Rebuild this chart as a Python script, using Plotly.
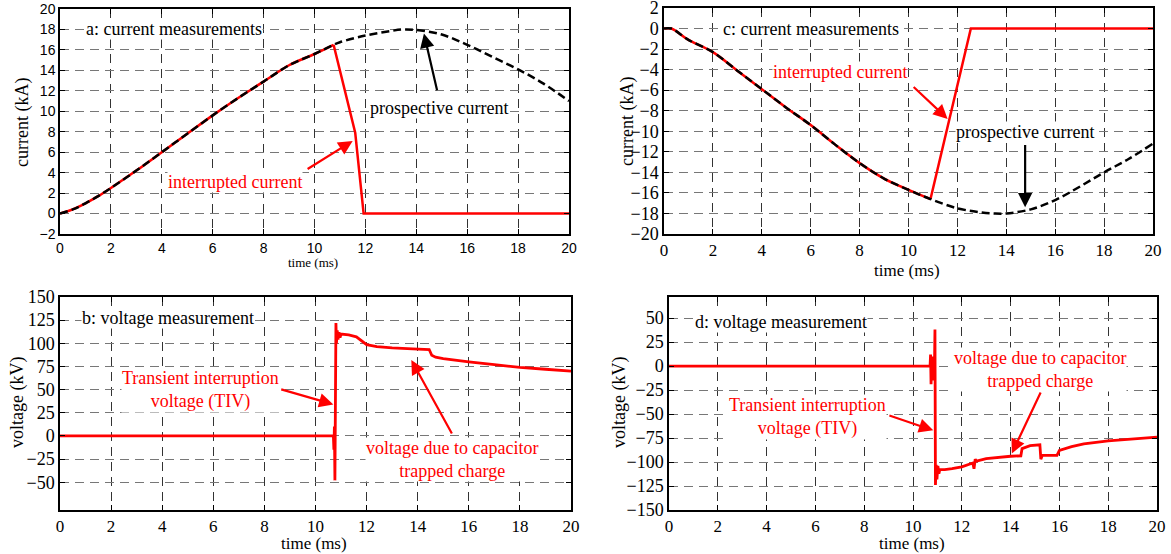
import plotly.graph_objects as go

# ---------------- data ----------------
# panel a: current measurements (positive half wave)
a_pros_t = [0, 0.5, 1, 1.5, 2, 3, 4, 5, 6, 7, 8, 9, 10, 10.75, 11, 12, 13, 13.5, 14, 15, 16, 17, 18, 19, 20]
a_pros_i = [0, 0.4, 1.0, 1.7, 2.5, 4.2, 6.0, 7.8, 9.6, 11.3, 12.9, 14.5, 15.6, 16.5, 16.75, 17.4, 17.85, 18.0, 17.95, 17.5, 16.5, 15.3, 14.1, 12.7, 11.0]
a_int_t = [0, 0.5, 1, 1.5, 2, 3, 4, 5, 6, 7, 8, 9, 10, 10.75]
a_int_i = [0, 0.4, 1.0, 1.7, 2.5, 4.2, 6.0, 7.8, 9.6, 11.3, 12.9, 14.5, 15.6, 16.5]
a_cut_t = [10.75, 11.6, 11.93, 20]
a_cut_i = [16.5, 7.9, 0, 0]

# panel c: current measurements (negative half wave)
c_pros_t = [0, 0.3, 1, 2, 3, 4, 5, 6, 7, 8, 9, 10, 10.9, 12, 13, 13.5, 14, 15, 16, 17, 18, 19, 20]
c_pros_i = [0, 0, -1.1, -2.3, -4.1, -5.9, -7.7, -9.4, -11.3, -13.1, -14.6, -15.7, -16.6, -17.5, -17.9, -18.0, -18.0, -17.6, -16.7, -15.4, -14.0, -12.7, -11.2]
c_int_t = [0, 0.3, 1, 2, 3, 4, 5, 6, 7, 8, 9, 10, 10.9]
c_int_i = [0, 0, -1.1, -2.3, -4.1, -5.9, -7.7, -9.4, -11.3, -13.1, -14.6, -15.7, -16.6]
c_cut_t = [10.9, 12.55, 20]
c_cut_i = [-16.6, 0, 0]

# panel b: voltage measurement
b_t = [0, 10.70, 10.72, 10.74, 10.76, 10.78, 10.80, 10.82, 10.85, 10.88, 10.92, 10.96, 11.0, 11.3, 11.6,
       11.8, 12.0, 12.4, 13.0, 13.8, 14.45, 14.55, 14.7, 15.0, 15.5, 16.0, 17.0, 18.0, 19.0, 20.0]
b_v = [0, 0, -15, 10, -48, 30, 122, 100, 114, 104, 112, 106, 110, 109, 107,
       103, 98.5, 96.5, 95, 94, 93.3, 87, 85, 83.5, 81.5, 80, 77, 74, 72, 70]

# panel d: voltage measurement
d_t = [0, 10.70, 10.72, 10.74, 10.78, 10.82, 10.86, 10.88, 10.90, 10.92, 10.95, 10.98, 11.02, 11.06, 11.1,
       11.3, 11.6, 12.0, 12.45, 12.5, 12.55, 12.6, 13.0, 13.5, 14.0, 14.42, 14.47, 14.8, 15.2, 15.24,
       15.3, 15.9, 16.0, 16.5, 17.0, 18.0, 19.0, 20.0]
d_v = [0, 0, 12, -19, 10, -15, 5, 0, 38, -124, -103, -118, -104, -112, -108,
       -108, -107, -105, -101, -107, -97, -99, -96.5, -95, -94, -93.5, -86, -83, -82, -97,
       -93, -93, -88, -84, -81, -78, -76, -74]

x_ticks = list(range(0, 21, 2))
a_yticks = list(range(-2, 21, 2))
c_yticks = list(range(-20, 3, 2))
b_yticks = list(range(-50, 151, 25))
d_yticks = list(range(-150, 51, 25))

# ---------------- figure ----------------
W, H = 1171, 554
RED = "#ff0000"
SERIF = "'Liberation Serif', 'Times New Roman', Times, serif"
SANS = "'Liberation Sans', Arial, Helvetica, sans-serif"

fig = go.Figure()

def line(x, y, ax, color, dash=None, shape="linear", width=2.5):
    fig.add_trace(go.Scatter(x=x, y=y, mode="lines", xaxis=ax[0], yaxis=ax[1],
                             line=dict(color=color, width=width, dash=dash, shape=shape),
                             showlegend=False, hoverinfo="skip"))

# panel a
line(a_int_t, a_int_i, ("x", "y"), RED, shape="spline")
line(a_cut_t, a_cut_i, ("x", "y"), RED)
line(a_pros_t, a_pros_i, ("x", "y"), "black", dash="8px,4px", shape="spline")
# panel c
line(c_int_t, c_int_i, ("x2", "y2"), RED, shape="spline")
line(c_cut_t, c_cut_i, ("x2", "y2"), RED)
line(c_pros_t, c_pros_i, ("x2", "y2"), "black", dash="8px,4px", shape="spline")
# panel b
line(b_t, b_v, ("x3", "y3"), RED, width=2.8)
# panel d
line(d_t, d_v, ("x4", "y4"), RED, width=2.8)

def px_x(a, b):
    return [a / W, b / W]

def px_y(top, bottom):
    return [1 - bottom / H, 1 - top / H]

def axis_style(tickfont, tickvals, domain, anchor, rng, vertical, size):
    return dict(domain=domain, anchor=anchor, range=rng, tickvals=tickvals,
                showline=True, linecolor="black", linewidth=1.5, mirror="ticks",
                ticks="inside", ticklen=5, tickcolor="black", tickwidth=1,
                showgrid=True, gridcolor="#333333" if vertical else "#777777",
                griddash="9px,6px", gridwidth=1, zeroline=False, automargin=False,
                ticklabeloverflow="allow",
                tickfont=dict(family=tickfont, size=size, color="black"),
                fixedrange=True)

fig.update_layout(
    width=W, height=H, margin=dict(l=0, r=0, t=0, b=0, pad=0, autoexpand=False),
    paper_bgcolor="white", plot_bgcolor="white",
    xaxis=axis_style(SANS, x_ticks, px_x(60, 569), "y", [0, 20], True, 14),
    yaxis=axis_style(SANS, a_yticks, px_y(9, 234), "x", [-2, 20], False, 14),
    xaxis2=axis_style(SERIF, x_ticks, px_x(664, 1153), "y2", [0, 20], True, 17),
    yaxis2=axis_style(SERIF, c_yticks, px_y(8, 234), "x2", [-20, 2], False, 18),
    xaxis3=axis_style(SERIF, x_ticks, px_x(60, 571), "y3", [0, 20], True, 17),
    yaxis3=axis_style(SERIF, b_yticks, px_y(297, 510), "x3", [-80, 150], False, 18),
    xaxis4=axis_style(SERIF, x_ticks, px_x(669, 1157), "y4", [0, 20], True, 17),
    yaxis4=axis_style(SERIF, d_yticks, px_y(297, 510), "x4", [-150, 72], False, 18),
)

anns = []

def text(ax, x, y, s, color="black", size=18, bg="white"):
    anns.append(dict(xref=ax[0], yref=ax[1], x=x, y=y, text=s, showarrow=False,
                     font=dict(family=SERIF, size=size, color=color),
                     bgcolor=bg, borderpad=0, align="center"))

def arrow(ax, x0, y0, x1, y1, color):
    anns.append(dict(xref=ax[0], yref=ax[1], axref=ax[0], ayref=ax[1],
                     x=x1, y=y1, ax=x0, ay=y0, text="", showarrow=True,
                     arrowhead=2, arrowsize=1.3, arrowwidth=2.2, arrowcolor=color,
                     standoff=0, startstandoff=0))

def ptitle(xp, yp, s, size=18, angle=0):
    anns.append(dict(xref="paper", yref="paper", x=xp / W, y=1 - yp / H, text=s,
                     showarrow=False, textangle=angle, xanchor="center", yanchor="middle",
                     font=dict(family=SERIF, size=size, color="black")))

# panel a
text(("x", "y"), 4.47, 18, "a: current measurements")
text(("x", "y"), 14.9, 10.3, "prospective current")
arrow(("x", "y"), 14.83, 11.9, 14.3, 17.6, "black")
text(("x", "y"), 6.87, 3.06, "interrupted current", RED)
arrow(("x", "y"), 9.67, 4.26, 11.5, 7.1, RED)
# panel c
text(("x2", "y2"), 6.0, 0, "c: current measurements")
text(("x2", "y2"), 7.2, -4.26, "interrupted current", RED)
arrow(("x2", "y2"), 10.15, -5.55, 11.6, -8.8, RED)
text(("x2", "y2"), 14.77, -10.06, "prospective current")
arrow(("x2", "y2"), 14.77, -11.2, 14.77, -17.4, "black")
# panel b
text(("x3", "y3"), 4.23, 127, "b: voltage measurement")
text(("x3", "y3"), 5.48, 50, "Transient interruption<br>voltage (TIV)", RED)
arrow(("x3", "y3"), 8.6, 50.7, 10.7, 34, RED)
text(("x3", "y3"), 15.35, -25, "voltage due to capacitor<br>trapped charge", RED)
arrow(("x3", "y3"), 15.37, 1, 13.75, 82, RED)
# panel d
text(("x4", "y4"), 4.6, 45.5, "d: voltage measurement")
text(("x4", "y4"), 15.2, -3.8, "voltage due to capacitor<br>trapped charge", RED)
arrow(("x4", "y4"), 15.26, -26, 14.05, -91, RED)
text(("x4", "y4"), 5.68, -52.6, "Transient interruption<br>voltage (TIV)", RED)
arrow(("x4", "y4"), 8.97, -51, 10.83, -67, RED)

# axis titles
ptitle(22, 122, "current (kA)", angle=-90)
ptitle(313, 262, "time (ms)", size=13)
ptitle(627, 122, "current (kA)", angle=-90)
ptitle(907, 270, "time (ms)", size=17)
ptitle(17, 403, "voltage (kV)", angle=-90)
ptitle(314, 543, "time (ms)", size=17)
ptitle(619, 403, "voltage (kV)", angle=-90)
ptitle(912, 543, "time (ms)", size=17)

fig.update_layout(annotations=anns)
fig.write_html("out.html")
